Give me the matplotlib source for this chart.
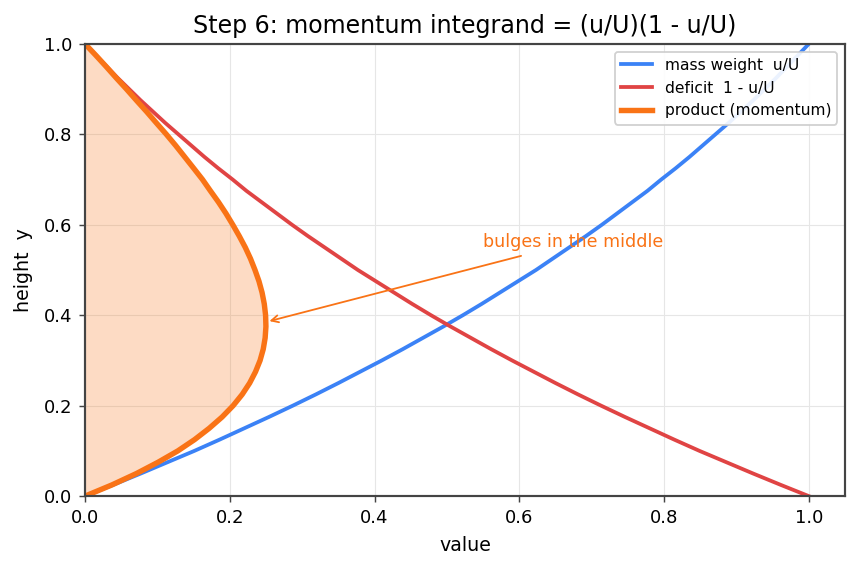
import numpy as np
import matplotlib
matplotlib.use("Agg")
import matplotlib.pyplot as plt

# heights and the velocity ratio
height = [0.000, 0.025, 0.050, 0.075, 0.100, 0.125, 0.150, 0.175, 0.200, 0.225,
          0.250, 0.275, 0.300, 0.325, 0.350, 0.375, 0.400, 0.425, 0.450, 0.475,
          0.500, 0.525, 0.550, 0.575, 0.600, 0.625, 0.650, 0.675, 0.700, 0.725,
          0.750, 0.775, 0.800, 0.825, 0.850, 0.875, 0.900, 0.925, 0.950, 0.975,
          1.000]
u_ratio = [0.000, 0.039, 0.077, 0.114, 0.151, 0.186, 0.220, 0.254, 0.287, 0.319,
           0.350, 0.380, 0.410, 0.439, 0.467, 0.495, 0.522, 0.548, 0.573, 0.598,
           0.623, 0.646, 0.669, 0.692, 0.714, 0.735, 0.756, 0.777, 0.796, 0.816,
           0.835, 0.853, 0.871, 0.889, 0.906, 0.923, 0.939, 0.955, 0.970, 0.985,
           1.000]

y = np.array(height)
u = np.array(u_ratio)
deficit = 1 - u
product = u * deficit

blue = "#3b82f6"
red = "#e04444"
orange = "#f97316"

fig = plt.figure(figsize=(6.6, 4.377), dpi=130)
ax = fig.add_axes([0.099, 0.128, 0.886, 0.795])

ax.fill_betweenx(y, 0, product, color=orange, alpha=0.25, lw=0)
ax.plot(u, y, color=blue, lw=2.1, label="mass weight  u/U", solid_joinstyle="round")
ax.plot(deficit, y, color=red, lw=2.1, label="deficit  1 - u/U", solid_joinstyle="round")
ax.plot(product, y, color=orange, lw=3.0, label="product (momentum)", solid_joinstyle="round")

ax.annotate("bulges in the middle", xy=(0.25, 0.385), xytext=(0.55, 0.55),
            color=orange, fontsize=9.7,
            arrowprops=dict(arrowstyle="->", color=orange, lw=1.0))

ax.set_xlim(0, 1.05)
ax.set_ylim(0, 1.0)
ax.set_xlabel("value", fontsize=10.5, labelpad=5)
ax.set_ylabel("height  y", fontsize=10.5, labelpad=6)
ax.set_title("Step 6: momentum integrand = (u/U)(1 - u/U)", fontsize=13.2)
ax.grid(True, color="#e6e6e6", lw=0.6)
ax.set_axisbelow(True)
for s in ax.spines.values():
    s.set_color("#444444")
    s.set_linewidth(1.2)
ax.tick_params(labelsize=10, color="#444444")

ax.legend(loc="upper right", fontsize=8.6, framealpha=0.9, edgecolor="#cccccc")

fig.savefig("out.png", dpi=130)
